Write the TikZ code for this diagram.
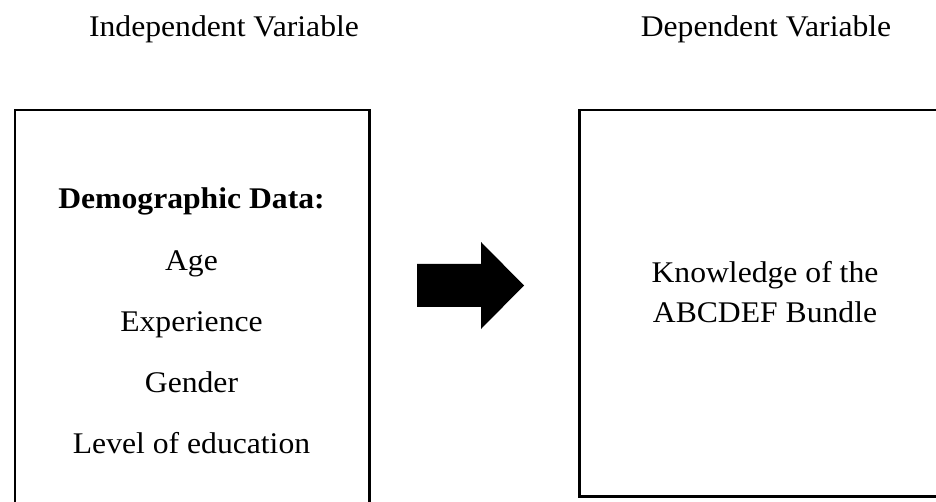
\documentclass[tikz,border=0pt]{standalone}
\usepackage{fontspec}
\setmainfont{Liberation Serif}[FakeStretch=1.055]
\tikzset{
  varbox/.style={draw=black, line width=2.2pt, inner sep=0pt, outer sep=0pt, anchor=north west},
  label/.style={anchor=base, inner sep=0pt, font=\fontsize{30pt}{36pt}\selectfont},
  boldlabel/.style={label, font=\fontsize{30pt}{36pt}\selectfont\bfseries},
}
\begin{document}
\begin{tikzpicture}[x=1pt, y=-1pt]
\useasboundingbox (0,0) rectangle (936,502);
\clip (0,0) rectangle (936,502);
\fill[white] (0,0) rectangle (936,502);

% headers
\node[label] (indhead) at (224,37) {Independent Variable};
\node[label] (dephead) at (766,37) {Dependent Variable};

% boxes
\node[varbox, minimum width=354.5pt, minimum height=410pt] (indbox) at (15,110) {};
\node[varbox, minimum width=375pt, minimum height=386.5pt] (depbox) at (579.5,110) {};

% left box text
\node[boldlabel] (demo) at (191.5,209) {Demographic Data:};
\node[label] (age) at (191.5,270.5) {Age};
\node[label] (exp) at (191.5,331.5) {Experience};
\node[label] (gen) at (191.5,392) {Gender};
\node[label] (lev) at (191.5,453) {Level of education};

% right box text
\node[label] (know1) at (765,283) {Knowledge of the};
\node[label] (know2) at (765,322) {ABCDEF Bundle};

% block arrow
\coordinate (arrowtail) at (417,285.5);
\fill[black] (arrowtail) ++(0,-21.5) -- ++(64,0) -- ++(0,-22) -- ++(43,43.5)
  -- ++(-43,43.5) -- ++(0,-22) -- ++(-64,0) -- cycle;
\end{tikzpicture}
\end{document}
